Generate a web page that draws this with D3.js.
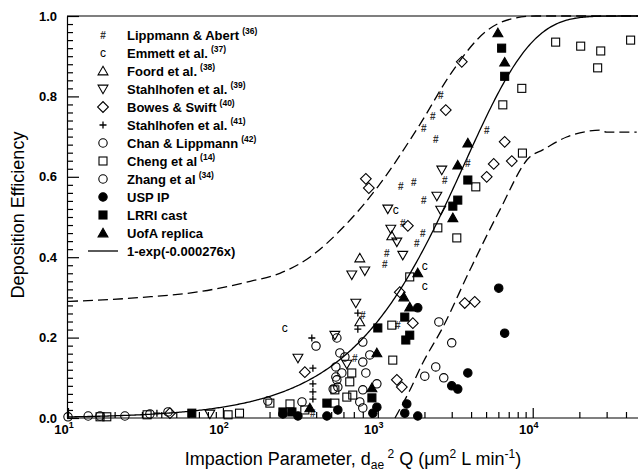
<!DOCTYPE html>
<html><head><meta charset="utf-8">
<script src="https://cdn.jsdelivr.net/npm/d3@7"></script>
<style>body{margin:0;background:#fff}svg{display:block}</style>
</head><body>
<svg id="chart" width="638" height="476"></svg>
<script>
// ---- measured deposition efficiencies, [impaction parameter, efficiency] ----
const lippmannAbert = [[1982,0.719],[2366,0.694],[2264,0.749],[2547,0.801],[5045,0.714],[3811,0.634],[2704,0.592],[1706,0.587],[1406,0.575],[1982,0.542],[1449,0.483],[1950,0.46],[1786,0.433],[1143,0.408],[1110,0.381],[800,0.256],[381,0.012],[710,0.149],[1347,0.231]];
const emmett = [[251,0.224],[1306,0.517],[2010,0.378],[2010,0.328]];
const foord = [[765,0.398],[765,0.239],[1231,0.453]];
const stahlhofen39 = [[82.4,0.01],[305,0.149],[528,0.206],[631,0.134],[721,0.286],[679,0.356],[824,0.366],[1213,0.47],[1327,0.438],[1449,0.405],[1160,0.52],[2588,0.617],[2404,0.552],[2547,0.517]];
const bowesSwift = [[45.5,0.012],[338,0.114],[837,0.595],[875,0.572],[1563,0.478],[1683,0.236],[1327,0.095],[1429,0.077],[2746,0.766],[3484,0.886],[6590,0.687],[5600,0.632],[7325,0.639],[5045,0.6],[3640,0.286],[4224,0.289],[1386,0.313]];
const stahlhofen41 = [[37.5,0.012],[375,0.199],[381,0.124],[381,0.085],[381,0.065],[381,0.047],[743,0.261],[743,0.221]];
const chanLippmann = [[10,0.003],[13.5,0.005],[16.1,0.005],[23.3,0.005],[33.8,0.01],[44.2,0.015],[195,0.042],[399,0.179],[324,0.04],[536,0.127],[536,0.102],[552,0.077],[569,0.162],[613,0.152],[586,0.112],[544,0.095],[515,0.072],[800,0.189],[888,0.157],[800,0.139],[837,0.112],[800,0.07],[986,0.085],[765,0.04],[800,0.025],[544,0.199]];
const cheng = [[16.1,0.003],[17.8,0.003],[32.4,0.008],[108,0.008],[128,0.012],[201,0.037],[271,0.035],[338,0.02],[679,0.112],[659,0.09],[528,0.07],[631,0.052],[528,0.037],[689,0.057],[1231,0.231],[1249,0.144],[1607,0.351],[2440,0.473],[3235,0.448],[4290,0.575],[6410,0.779],[8500,0.82],[8580,0.659],[14060,0.935],[20400,0.925],[27480,0.913],[26250,0.871],[42850,0.94]];
const zhang = [[2478,0.239],[3000,0.187],[2366,0.127],[2010,0.104],[2665,0.1]];
const uspIP = [[244,0.01],[305,0.005],[469,0.005],[552,0.02],[929,0.012],[986,0.027],[1493,0.012],[1538,0.035],[1811,0.005],[1811,0.274],[3000,0.08],[3282,0.072],[3811,0.112],[6034,0.323],[6590,0.211]];
const lrriCast = [[63,0.012],[244,0.015],[279,0.015],[469,0.037],[916,0.05],[1000,0.224],[1493,0.251],[1607,0.206],[1516,0.194],[3050,0.527],[3282,0.542],[3811,0.592],[6300,0.92],[6590,0.85]];
const uofaReplica = [[364,0.025],[916,0.075],[986,0.162],[1472,0.301],[1607,0.276],[1811,0.361],[3050,0.498],[3282,0.629],[3811,0.684],[5960,0.958],[6590,0.885]];

// ---- prediction band around the fit ----
const upperBand = [[10,0.29],[30,0.3],[70,0.314],[150,0.34],[233,0.36],[364,0.4],[600,0.475],[1000,0.575],[1867,0.73],[3000,0.86],[5000,0.962],[7500,0.994],[10500,1.0],[50000,1.0]];
const lowerBand = [[1290,0],[1600,0.067],[1950,0.137],[2600,0.222],[3930,0.368],[6125,0.517],[9560,0.649],[11600,0.667],[16560,0.699],[23340,0.714],[27100,0.716],[29990,0.711],[46900,0.711]];

// ---- axis ticks ----
const yTicks = [0, 0.2, 0.4, 0.6, 0.8, 1.0];
const yTickLabels = ["0.0", "0.2", "0.4", "0.6", "0.8", "1.0"];
const xDecades = [10, 100, 1000, 10000];
const xDecadeExponents = ["1", "2", "3", "4"];

// ---- legend ----
const legendNames = ["Lippmann & Abert", "Emmett et al.", "Foord et al.", "Stahlhofen et al.", "Bowes & Swift", "Stahlhofen et al.", "Chan & Lippmann", "Cheng et al", "Zhang et al", "USP IP", "LRRI cast", "UofA replica"];
const legendRefs = ["(36)", "(37)", "(38)", "(39)", "(40)", "(41)", "(42)", "(14)", "(34)", "", "", ""];
const fitLabel = "1-exp(-0.000276x)";
const fitRate = 0.000276;

const FONT = "'Liberation Sans', Arial, Helvetica, sans-serif";
const svg = d3.select("#chart");

const x = d3.scaleLog().domain([10, 50000]).range([68, 641]);
const y = d3.scaleLinear().domain([0, 1]).range([418, 16]);

// frame top line
svg.append("line").attr("x1", 67).attr("x2", 641).attr("y1", 16).attr("y2", 16)
  .attr("stroke", "#000").attr("stroke-width", 1.2);

// x axis: major decades + minor ticks, drawn inward
const xMinor = [];
for (const d of [10, 100, 1000, 10000]) for (let m = 2; m <= 9; m++) if (d * m <= 50000) xMinor.push(d * m);
const gx = svg.append("g").attr("transform", "translate(0,418)");
gx.call(d3.axisBottom(x).tickValues(xDecades).tickSizeInner(-10).tickSizeOuter(0).tickFormat(() => ""));
gx.append("g").call(d3.axisBottom(x).tickValues(xMinor).tickSizeInner(-6).tickSizeOuter(0).tickFormat(() => ""))
  .select(".domain").remove();
gx.selectAll("path,line").attr("stroke", "#000").attr("stroke-width", 1.2);
gx.select(".domain").attr("d", "M67,0H641");
xDecades.forEach((d, i) => {
  const t = gx.append("text").attr("x", x(d) - 4).attr("y", 16).attr("text-anchor", "middle")
    .attr("font-family", FONT).attr("font-weight", "bold").attr("font-size", 13).attr("fill", "#000");
  t.append("tspan").text("10");
  t.append("tspan").attr("dy", -6).attr("font-size", 9).text(xDecadeExponents[i]);
});

// y axis: majors every 0.2, minors between
const yMinor = d3.range(0, 51).map(i => i / 50).filter(v => Math.round(v * 50) % 10 !== 0);
const gy = svg.append("g").attr("transform", "translate(67,0)");
gy.call(d3.axisLeft(y).tickValues(yTicks).tickSizeInner(-12).tickSizeOuter(0).tickPadding(10)
  .tickFormat((d, i) => yTickLabels[i]));
gy.append("g").call(d3.axisLeft(y).tickValues(yMinor).tickSizeInner(-6).tickSizeOuter(0).tickFormat(() => ""))
  .select(".domain").remove();
gy.selectAll("path,line").attr("stroke", "#000").attr("stroke-width", 1.2);
gy.selectAll("text").attr("font-family", FONT).attr("font-weight", "bold").attr("font-size", 13).attr("fill", "#000");

// axis titles
svg.append("text").attr("transform", "translate(24,215) rotate(-90)").attr("text-anchor", "middle")
  .attr("font-family", FONT).attr("font-size", 18).attr("fill", "#000").text("Deposition Efficiency");
const xt = svg.append("text").attr("x", 353).attr("y", 465).attr("text-anchor", "middle")
  .attr("font-family", FONT).attr("font-size", 18).attr("fill", "#000");
xt.append("tspan").text("Impaction Parameter, d");
xt.append("tspan").attr("dy", 4).attr("font-size", 12).text("ae");
xt.append("tspan").attr("dy", -11).attr("font-size", 12).text(" 2");
xt.append("tspan").attr("dy", 7).text(" Q (\u03bcm");
xt.append("tspan").attr("dy", -7).attr("font-size", 12).text("2");
xt.append("tspan").attr("dy", 7).text(" L min");
xt.append("tspan").attr("dy", -7).attr("font-size", 12).text("-1");
xt.append("tspan").attr("dy", 7).text(")");

// curves
const plot = svg.append("g");
const fitPts = d3.range(0, 401).map(i => 10 ** (1 + i * Math.log10(5000) / 400));
plot.append("path").datum(fitPts)
  .attr("d", d3.line().x(d => x(d)).y(d => y(1 - Math.exp(-fitRate * d))))
  .attr("fill", "none").attr("stroke", "#000").attr("stroke-width", 1.3);
const bandLine = d3.line().x(d => x(d[0])).y(d => y(d[1])).curve(d3.curveMonotoneX);
[upperBand, lowerBand].forEach(b => plot.append("path").datum(b).attr("d", bandLine)
  .attr("fill", "none").attr("stroke", "#000").attr("stroke-width", 1.3).attr("stroke-dasharray", "10,5"));

// marker drawing
const sym = (type, size) => d3.symbol().type(type).size(size)();
const markers = {
  hash: (g) => g.append("text").attr("text-anchor", "middle").attr("dy", 3.5).attr("font-family", FONT)
    .attr("font-weight", "bold").attr("font-size", 10).attr("fill", "#333").text("#"),
  c: (g) => g.append("text").attr("text-anchor", "middle").attr("dy", 4).attr("font-family", FONT)
    .attr("font-size", 12).attr("fill", "#000").text("c"),
  triUp: (g, fill) => g.append("path").attr("d", sym(d3.symbolTriangle, 42)).attr("transform", "translate(0,1)")
    .attr("fill", fill).attr("stroke", "#000").attr("stroke-width", 1.1),
  triDown: (g) => g.append("path").attr("d", sym(d3.symbolTriangle, 42)).attr("transform", "translate(0,-1) rotate(180)")
    .attr("fill", "none").attr("stroke", "#000").attr("stroke-width", 1.1),
  diamond: (g) => g.append("rect").attr("x", -3.8).attr("y", -3.8).attr("width", 7.6).attr("height", 7.6)
    .attr("transform", "rotate(45)").attr("fill", "none").attr("stroke", "#000").attr("stroke-width", 1.1),
  plus: (g) => g.append("path").attr("d", "M-3.5,0H3.5M0,-3.5V3.5").attr("stroke", "#000").attr("stroke-width", 1.3),
  circle: (g, fill) => g.append("circle").attr("r", 4.2).attr("fill", fill).attr("stroke", "#000").attr("stroke-width", 1.1),
  square: (g, fill) => g.append("rect").attr("x", -4).attr("y", -4).attr("width", 8).attr("height", 8)
    .attr("fill", fill).attr("stroke", "#000").attr("stroke-width", 1.1)
};

const seriesList = [
  { data: lippmannAbert, draw: g => markers.hash(g) },
  { data: emmett, draw: g => markers.c(g) },
  { data: foord, draw: g => markers.triUp(g, "none") },
  { data: stahlhofen39, draw: g => markers.triDown(g) },
  { data: bowesSwift, draw: g => markers.diamond(g) },
  { data: stahlhofen41, draw: g => markers.plus(g) },
  { data: chanLippmann, draw: g => markers.circle(g, "none") },
  { data: cheng, draw: g => markers.square(g, "none") },
  { data: zhang, draw: g => markers.circle(g, "none") },
  { data: uspIP, draw: g => markers.circle(g, "#000") },
  { data: lrriCast, draw: g => markers.square(g, "#000") },
  { data: uofaReplica, draw: g => markers.triUp(g, "#000") }
];

seriesList.forEach(s => {
  plot.append("g").selectAll("g").data(s.data).join("g")
    .attr("transform", d => `translate(${x(d[0])},${y(d[1])})`)
    .each(function () { s.draw(d3.select(this)); });
});

// legend
const legend = svg.append("g");
seriesList.forEach((s, i) => {
  const cy = 35 + 18 * i;
  s.draw(legend.append("g").attr("transform", `translate(103,${cy})`));
  const t = legend.append("text").attr("x", 127).attr("y", cy + 4.5).attr("font-family", FONT)
    .attr("font-weight", "bold").attr("font-size", 13).attr("fill", "#000");
  t.append("tspan").text(legendNames[i]);
  if (legendRefs[i]) t.append("tspan").attr("dx", 3).attr("dy", -6).attr("font-size", 8.5).text(legendRefs[i]);
});
const fy = 35 + 18 * 12;
legend.append("line").attr("x1", 88).attr("x2", 118).attr("y1", fy).attr("y2", fy).attr("stroke", "#000").attr("stroke-width", 1.3);
legend.append("text").attr("x", 127).attr("y", fy + 4.5).attr("font-family", FONT).attr("font-weight", "bold")
  .attr("font-size", 13).attr("fill", "#000").text(fitLabel);
</script>
</body></html>
